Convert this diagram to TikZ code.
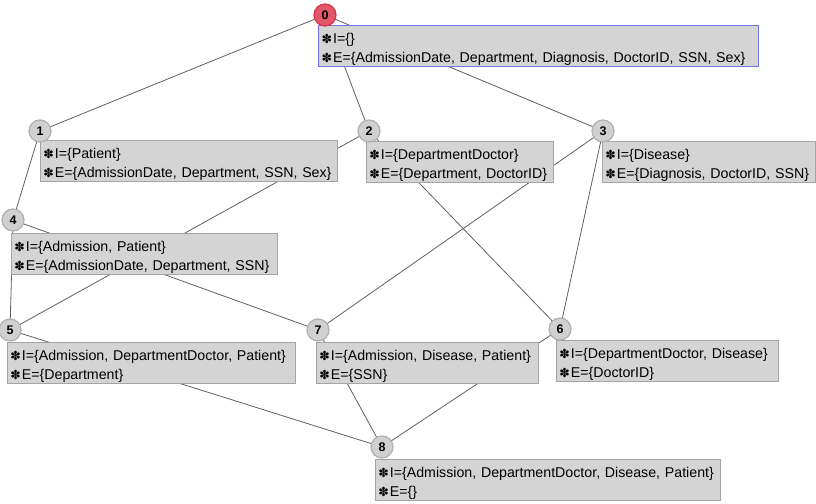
\documentclass[tikz,border=0pt]{standalone}
\usepackage{fontspec}
\setmainfont{Liberation Sans}
\newfontfamily\djv{DejaVu Sans}
\usetikzlibrary{backgrounds}
\definecolor{boxfill}{HTML}{D4D4D4}
\definecolor{boxline}{HTML}{A4A4A4}
\definecolor{edgecol}{HTML}{606060}
\definecolor{selline}{HTML}{7474E0}
\definecolor{selfill}{HTML}{E0586A}
\definecolor{selring}{HTML}{D83248}
\definecolor{circfill}{HTML}{D0D0D0}
\definecolor{circline}{HTML}{B0B0B0}
\newcommand{\ic}{{\djv\fontsize{12.5}{12}\selectfont ✽}\hspace{1pt}}
\newcommand{\tl}{\rule{0pt}{17pt}}
\tikzset{
  lbox/.style={draw=boxline, line width=0.8pt, fill=boxfill, anchor=north west,
    inner xsep=3pt, inner ysep=0pt, align=left, minimum height=41pt,
    font=\fontsize{14.2}{19.2}\selectfont},
  selbox/.style={lbox, draw=selline, line width=1.2pt},
  cnum/.style={circle, draw=circline, line width=1.2pt, fill=circfill, minimum size=22pt,
    inner sep=0pt, font=\fontsize{12.5}{12.5}\selectfont\bfseries},
  selnum/.style={cnum, fill=selfill, draw=selring},
  edge/.style={draw=edgecol, line width=0.8pt}
}
\begin{document}
\begin{tikzpicture}[x=1pt,y=-1pt]
\useasboundingbox (0,0) rectangle (816,503);
% boxes
\node[selbox, text width=434pt] (b0) at (318,25) {\tl\ic I=\{\}\\\ic E=\{AdmissionDate, Department, Diagnosis, DoctorID, SSN, Sex\}};
\node[lbox, text width=291pt] (b1) at (40,140) {\tl\ic I=\{Patient\}\\\ic E=\{AdmissionDate, Department, SSN, Sex\}};
\node[lbox, text width=181pt] (b2) at (366,141) {\tl\ic I=\{DepartmentDoctor\}\\\ic E=\{Department, DoctorID\}};
\node[lbox, text width=207pt] (b3) at (602,141) {\tl\ic I=\{Disease\}\\\ic E=\{Diagnosis, DoctorID, SSN\}};
\node[lbox, text width=260pt] (b4) at (11,233) {\tl\ic I=\{Admission, Patient\}\\\ic E=\{AdmissionDate, Department, SSN\}};
\node[lbox, text width=282pt] (b5) at (7,342) {\tl\ic I=\{Admission, DepartmentDoctor, Patient\}\\\ic E=\{Department\}};
\node[lbox, text width=216pt] (b7) at (316,342) {\tl\ic I=\{Admission, Disease, Patient\}\\\ic E=\{SSN\}};
\node[lbox, text width=216pt] (b6) at (556,340) {\tl\ic I=\{DepartmentDoctor, Disease\}\\\ic E=\{DoctorID\}};
\node[lbox, text width=339pt] (b8) at (375,459) {\tl\ic I=\{Admission, DepartmentDoctor, Disease, Patient\}\\\ic E=\{\}};
% circles
\node[selnum] (c0) at (325,15) {0};
\node[cnum] (c1) at (40,131) {1};
\node[cnum] (c2) at (369,131) {2};
\node[cnum] (c3) at (603,131) {3};
\node[cnum] (c4) at (13,220) {4};
\node[cnum] (c5) at (10,330) {5};
\node[cnum] (c7) at (318,330) {7};
\node[cnum] (c6) at (560,329) {6};
\node[cnum] (c8) at (382,447) {8};
% edges
\begin{scope}[on background layer]
\draw[edge] (c0.center) -- (c1.center);
\draw[edge] (c0.center) -- (c2.center);
\draw[edge] (c0.center) -- (c3.center);
\draw[edge] (c1.center) -- (c4.center);
\draw[edge] (c2.center) -- (c5.center);
\draw[edge] (c2.center) -- (c6.center);
\draw[edge] (c3.center) -- (c7.center);
\draw[edge] (c3.center) -- (c6.center);
\draw[edge] (c4.center) -- (c5.center);
\draw[edge] (c4.center) -- (c7.center);
\draw[edge] (c5.center) -- (c8.center);
\draw[edge] (c7.center) -- (c8.center);
\draw[edge] (c6.center) -- (c8.center);
\end{scope}
\end{tikzpicture}
\end{document}
